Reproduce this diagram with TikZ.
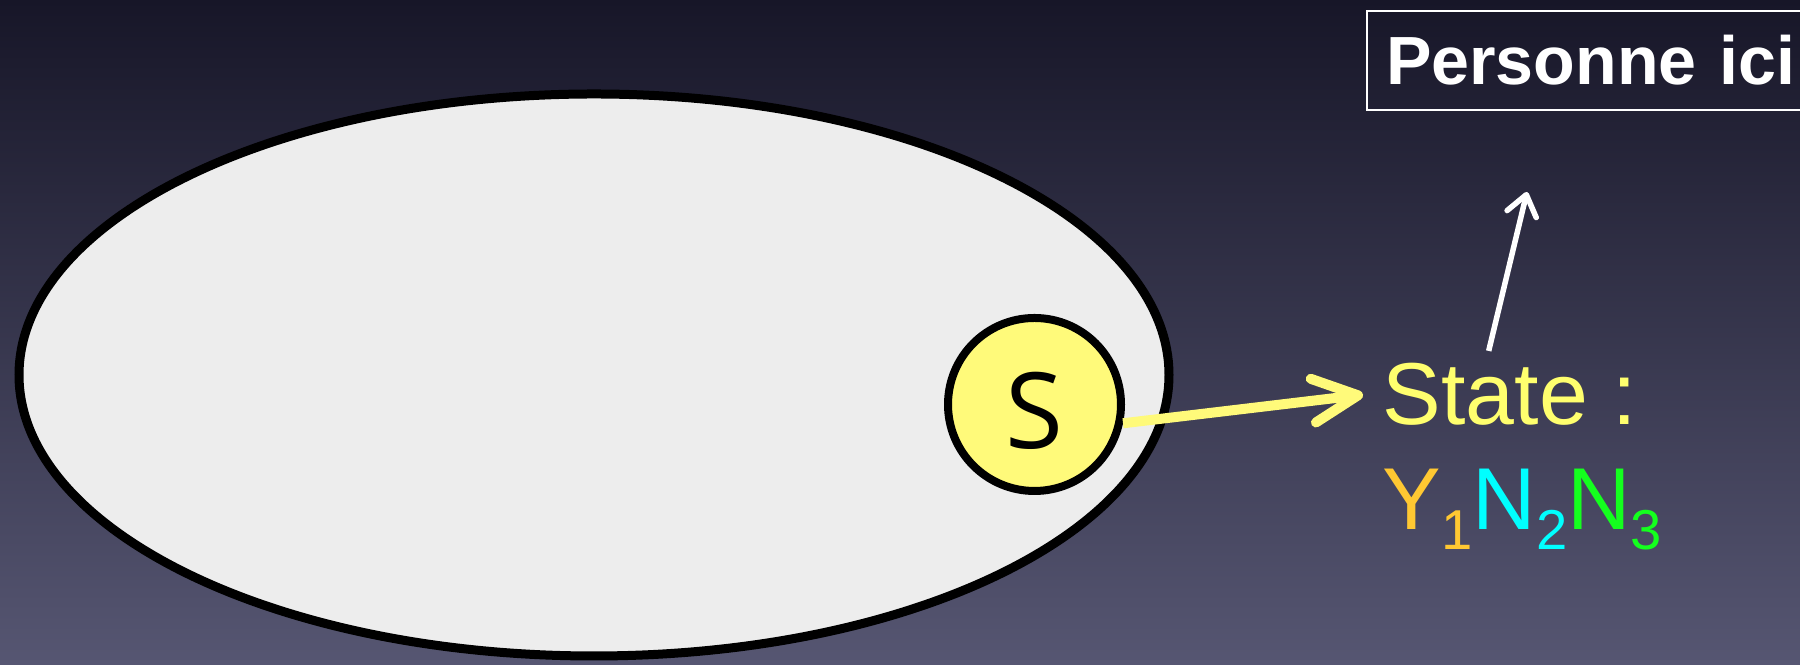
\documentclass[tikz,border=0pt]{standalone}
\usepackage{fontspec}
\setmainfont{Liberation Sans}
\newfontfamily\opensans{Open Sans}
\usepackage{xcolor}
\usepackage{tikz}
\usetikzlibrary{positioning,arrows.meta,shapes.geometric}
\definecolor{bgtop}{RGB}{23,22,40}
\definecolor{bgbot}{RGB}{86,86,114}
\definecolor{setfill}{RGB}{237,237,237}
\definecolor{sfill}{RGB}{255,250,122}
\definecolor{stateyel}{RGB}{255,255,110}
\definecolor{yorange}{RGB}{255,200,50}
\definecolor{ncyan}{RGB}{0,255,255}
\definecolor{ngreen}{RGB}{20,255,30}
\newcommand{\subidx}[1]{\raisebox{-0.2cm}{\fontsize{16}{16}\selectfont #1}}

\begin{document}
\begin{tikzpicture}[
  space/.style={ellipse, draw=black, line width=0.09cm, fill=setfill, minimum width=11.5cm, minimum height=5.62cm, inner sep=0pt},
  snode/.style={circle, draw=black, line width=0.08cm, fill=sfill, minimum size=1.73cm, inner sep=0pt, font=\opensans\fontsize{30}{30}\selectfont},
  statetxt/.style={anchor=base west, inner xsep=0.19cm, inner ysep=0.12cm, font=\fontsize{25}{30}\selectfont},
  tag/.style={draw=white, line width=0.6pt, text=white, font=\bfseries\fontsize{19.4}{23}\selectfont, inner xsep=0.19cm, text width=4.25cm, align=left, minimum height=0.99cm, anchor=north west},
  yarrow/.style={-{Straight Barb[length=0.45cm, width=0.44cm, round]}, draw=sfill, line width=0.1cm},
  warrow/.style={-{Straight Barb[length=0.2cm, width=0.3cm, round]}, draw=white, line width=0.055cm},
]
  \path[use as bounding box, clip] (0,0) rectangle (18,6.65);
  \shade[top color=bgtop, bottom color=bgbot] (0,0) rectangle (18,6.65);
  \node[space] (space) at (5.94,2.90) {};
  \node[snode] (S) at (10.345,2.605) {\raisebox{-0.06cm}[\height][0pt]{S}};
  \node[statetxt, text=stateyel] (state) at (13.63,2.40) {State :};
  \node[statetxt] (code) at (13.63,1.35) {\textcolor{yorange}{Y\subidx{1}}\textcolor{ncyan}{N\subidx{2}}\textcolor{ngreen}{N\subidx{3}}};
  \node[tag] (who) at (13.66,6.55) {Personne ici};
  \coordinate (up) at (15.27,4.73);
  \draw[yarrow] (S.-12) -- (state.west);
  \draw[warrow] ([xshift=-0.21cm]state.north) -- (up);
\end{tikzpicture}
\end{document}
